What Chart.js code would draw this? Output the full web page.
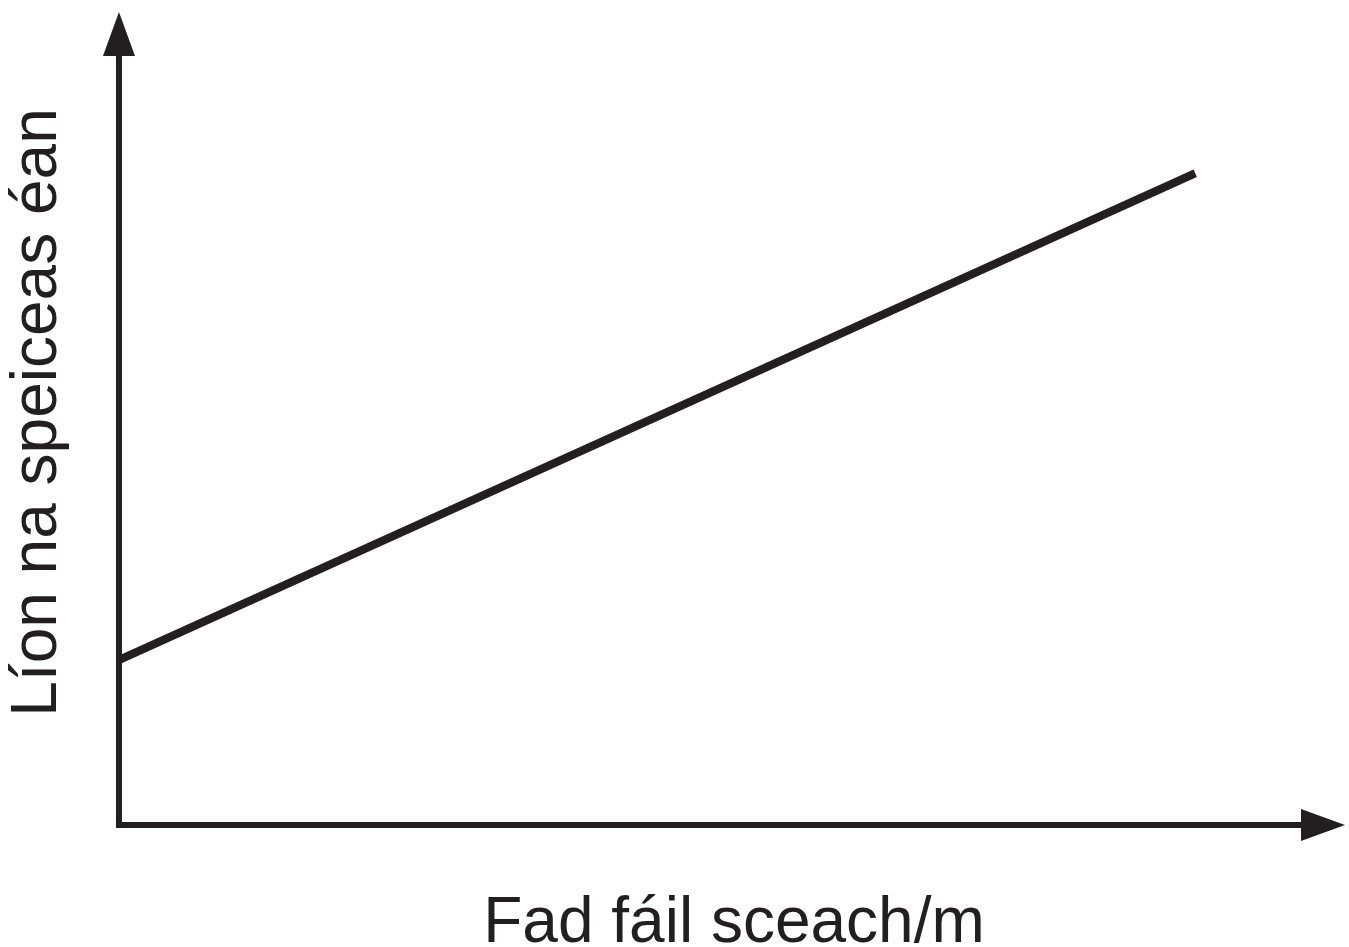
<!DOCTYPE html>
<html>
<head>
<meta charset="utf-8">
<title>Líon na speiceas éan</title>
<script src="https://cdn.jsdelivr.net/npm/chart.js@4/dist/chart.umd.min.js"></script>
<style>
  html, body { margin: 0; padding: 0; background: #fff; }
  #chart { display: block; }
</style>
</head>
<body>
<canvas id="chart" width="1349" height="947"></canvas>
<script>
// Data (arbitrary units, no ticks shown on the original)
const hedgeLength = [0, 8.75];
const birdSpecies = [2.0, 7.9];

const xTitle = 'Fad fáil sceach/m';
const yTitle = 'Líon na speiceas éan';

const INK = '#231f20';
const FONT = '"Liberation Sans", Arial, sans-serif';

// axis lines with arrowheads
const arrowAxes = {
    id: 'arrowAxes',
    afterDatasetsDraw(chart) {
        const { ctx, chartArea: a } = chart;
        const ax = a.left, ay = a.bottom;
        const head = 44, half = 16;
        const yTip = 12, xTip = 1345;
        ctx.save();
        ctx.strokeStyle = INK;
        ctx.fillStyle = INK;
        ctx.lineWidth = 6;
        ctx.lineCap = 'butt';
        ctx.beginPath();
        ctx.moveTo(ax, ay + 3);
        ctx.lineTo(ax, yTip + head);
        ctx.moveTo(ax - 3, ay);
        ctx.lineTo(xTip - head, ay);
        ctx.stroke();
        // y arrow
        ctx.beginPath();
        ctx.moveTo(ax, yTip);
        ctx.lineTo(ax - half, yTip + head);
        ctx.lineTo(ax + half, yTip + head);
        ctx.closePath();
        ctx.fill();
        // x arrow
        ctx.beginPath();
        ctx.moveTo(xTip, ay);
        ctx.lineTo(xTip - head, ay - half);
        ctx.lineTo(xTip - head, ay + half);
        ctx.closePath();
        ctx.fill();
        ctx.restore();
    }
};

new Chart(document.getElementById('chart'), {
    type: 'line',
    data: {
        datasets: [{
            data: hedgeLength.map((x, i) => ({ x, y: birdSpecies[i] })),
            borderColor: INK,
            borderWidth: 8,
            borderCapStyle: 'butt',
            pointRadius: 0,
            tension: 0,
            fill: false
        }]
    },
    options: {
        responsive: false,
        animation: false,
        layout: { padding: 0, autoPadding: false },
        plugins: {
            legend: { display: false },
            tooltip: { enabled: false }
        },
        scales: {
            x: {
                type: 'linear',
                min: 0,
                max: 10,
                grid: { display: false, drawTicks: false },
                border: { display: false },
                ticks: { display: false },
                title: {
                    display: true,
                    text: xTitle,
                    color: INK,
                    font: { family: FONT, size: 64, lineHeight: 0.7 },
                    padding: { top: 77.2, bottom: 0 }
                }
            },
            y: {
                type: 'linear',
                min: 0,
                max: 10,
                grid: { display: false, drawTicks: false },
                border: { display: false },
                ticks: { display: false },
                title: {
                    display: true,
                    text: yTitle,
                    color: INK,
                    font: { family: FONT, size: 64, lineHeight: 1.12 },
                    padding: { top: 3, bottom: 44.3 }
                }
            }
        }
    },
    plugins: [arrowAxes]
});
</script>
</body>
</html>
